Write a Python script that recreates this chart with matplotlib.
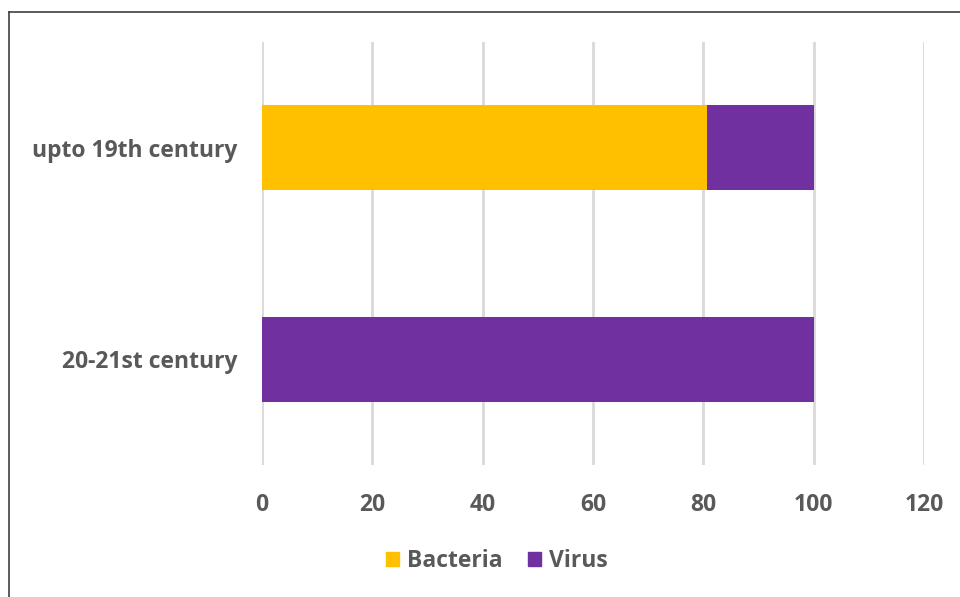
import matplotlib.pyplot as plt
from matplotlib.lines import Line2D
from matplotlib.patches import Patch

# categories bottom to top
periods = ['20-21st century', 'upto 19th century']
bacteria = [0, 80.7]
virus = [100, 19.3]

plt.rcParams['font.family'] = ['Open Sans', 'DejaVu Sans']
text_color = '#595959'

fig = plt.figure(figsize=(9.6, 5.97), dpi=100)
ax = fig.add_axes([262/960, 132/597, 662/960, 423/597])

ax.barh(periods, bacteria, height=0.4, color='#FFC000', label='Bacteria', zorder=3)
ax.barh(periods, virus, height=0.4, left=bacteria, color='#7030A0', label='Virus', zorder=3)

ax.set_xlim(0, 120)
ax.set_ylim(-0.5, 1.5)
ax.set_xticks(range(0, 121, 20))
ax.grid(axis='x', color='#D9D9D9', linewidth=2, zorder=0)
for s in ax.spines.values():
    s.set_visible(False)
ax.tick_params(length=0, colors=text_color, labelsize=16.5)
ax.tick_params(axis='x', pad=20)
ax.tick_params(axis='y', pad=18)
for lbl in ax.get_xticklabels() + ax.get_yticklabels():
    lbl.set_fontweight('bold')

handles = [Patch(color='#FFC000', label='Bacteria'), Patch(color='#7030A0', label='Virus')]
leg = fig.legend(handles=handles, loc='center', bbox_to_anchor=(497/960, 1 - 561/597),
                 ncol=2, frameon=False, handlelength=0.58, handleheight=0.58,
                 handletextpad=0.35, columnspacing=1.1,
                 prop={'weight': 'bold', 'size': 16.5})
for t in leg.get_texts():
    t.set_color(text_color)

# partial outer frame (left and top edges)
fig.add_artist(Line2D([9/960, 9/960], [0, 1 - 12/597], color='#404040', lw=1.2))
fig.add_artist(Line2D([9/960, 1], [1 - 12/597, 1 - 12/597], color='#404040', lw=1.2))

fig.savefig('out.png', dpi=100)
